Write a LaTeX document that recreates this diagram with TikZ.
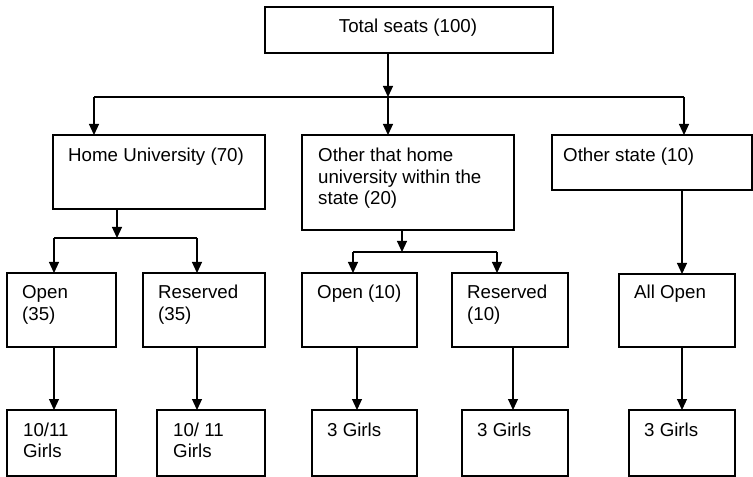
\documentclass[tikz,border=0pt]{standalone}
\usepackage{fontspec}
\setmainfont{Liberation Sans}
\usetikzlibrary{arrows.meta}
\newcommand{\tlines}[1]{\begin{tabular}[t]{@{}l@{}}#1\end{tabular}}
\begin{document}
\begin{tikzpicture}[x=1bp,y=-1bp,
  box/.style={draw, line width=1.1bp, inner sep=0pt, outer sep=0pt, anchor=north west},
  txt/.style={anchor=base west, inner sep=0pt, font=\fontsize{18.7bp}{21.5bp}\selectfont},
  conn/.style={line width=1.1bp},
  arr/.style={line width=1.1bp, -{Triangle[length=11bp,width=10bp]}}]
\useasboundingbox (0,0) rectangle (753,477);
% boxes
\node[box, minimum width=288bp, minimum height=46bp] (top) at (265,7) {};
\node[box, minimum width=212bp, minimum height=74bp] (hu)  at (53,135) {};
\node[box, minimum width=212bp, minimum height=95bp] (oth) at (302,135) {};
\node[box, minimum width=200bp, minimum height=55bp] (os)  at (552,135) {};
\node[box, minimum width=109bp, minimum height=74bp] (o35) at (7,273) {};
\node[box, minimum width=122bp, minimum height=74bp] (r35) at (143,273) {};
\node[box, minimum width=115bp, minimum height=74bp] (o10) at (302,273) {};
\node[box, minimum width=116bp, minimum height=74bp] (r10) at (452,273) {};
\node[box, minimum width=116bp, minimum height=73bp] (ao)  at (619,274) {};
\node[box, minimum width=109bp, minimum height=66bp] (g1)  at (7,410) {};
\node[box, minimum width=108bp, minimum height=66bp] (g2)  at (157,410) {};
\node[box, minimum width=105bp, minimum height=66bp] (g3)  at (312,410) {};
\node[box, minimum width=106bp, minimum height=66bp] (g4)  at (462,410) {};
\node[box, minimum width=106bp, minimum height=66bp] (g5)  at (629,410) {};
% texts
\node[txt, anchor=base] (ttop) at (408,33) {Total seats (100)};
\node[txt] (thu) at (68,162) {Home University (70)};
\node[txt] (toth) at (318,162) {\tlines{Other that home\\university within the\\state (20)}};
\node[txt] (tos) at (563,162) {Other state (10)};
\node[txt] (to35) at (22,299) {\tlines{Open\\(35)}};
\node[txt] (tr35) at (158,299) {\tlines{Reserved\\(35)}};
\node[txt] (to10) at (317,299) {Open (10)};
\node[txt] (tr10) at (467,299) {\tlines{Reserved\\(10)}};
\node[txt] (tao) at (634,299) {All Open};
\node[txt] (tg1) at (23,436) {\tlines{10/11\\Girls}};
\node[txt] (tg2) at (173,436) {\tlines{10/ 11\\Girls}};
\node[txt] (tg3) at (327,436) {3 Girls};
\node[txt] (tg4) at (477,436) {3 Girls};
\node[txt] (tg5) at (644,436) {3 Girls};
% level 1 connectors
\coordinate (j0) at (388,97);
\coordinate (jL) at (94,97);
\coordinate (jR) at (684,97);
\draw[arr] (top.south -| j0) -- (j0);
\draw[conn] (jL) -- (jR);
\draw[arr] (jL) -- (jL |- hu.north);
\draw[arr] (j0) -- (j0 |- oth.north);
\draw[arr] (jR) -- (jR |- os.north);
% home university split
\coordinate (h0) at (117,238);
\coordinate (hL) at (54,238);
\coordinate (hR) at (197,238);
\draw[arr] (hu.south -| h0) -- (h0);
\draw[conn] (hL) -- (hR);
\draw[arr] (hL) -- (hL |- o35.north);
\draw[arr] (hR) -- (hR |- r35.north);
\draw[arr] (o35.south -| hL) -- (g1.north -| hL);
\draw[arr] (r35.south -| hR) -- (g2.north -| hR);
% other within state split
\coordinate (m0) at (402,252);
\coordinate (mL) at (353,252);
\coordinate (mR) at (497,252);
\draw[arr] (oth.south -| m0) -- (m0);
\draw[conn] (mL) -- (mR);
\draw[arr] (mL) -- (mL |- o10.north);
\draw[arr] (mR) -- (mR |- r10.north);
\coordinate (cO) at (357,0);
\coordinate (cR) at (513,0);
\draw[arr] (o10.south -| cO) -- (g3.north -| cO);
\draw[arr] (r10.south -| cR) -- (g4.north -| cR);
% other state
\coordinate (cS) at (682,0);
\draw[arr] (os.south -| cS) -- (ao.north -| cS);
\draw[arr] (ao.south -| cS) -- (g5.north -| cS);
\end{tikzpicture}
\end{document}
